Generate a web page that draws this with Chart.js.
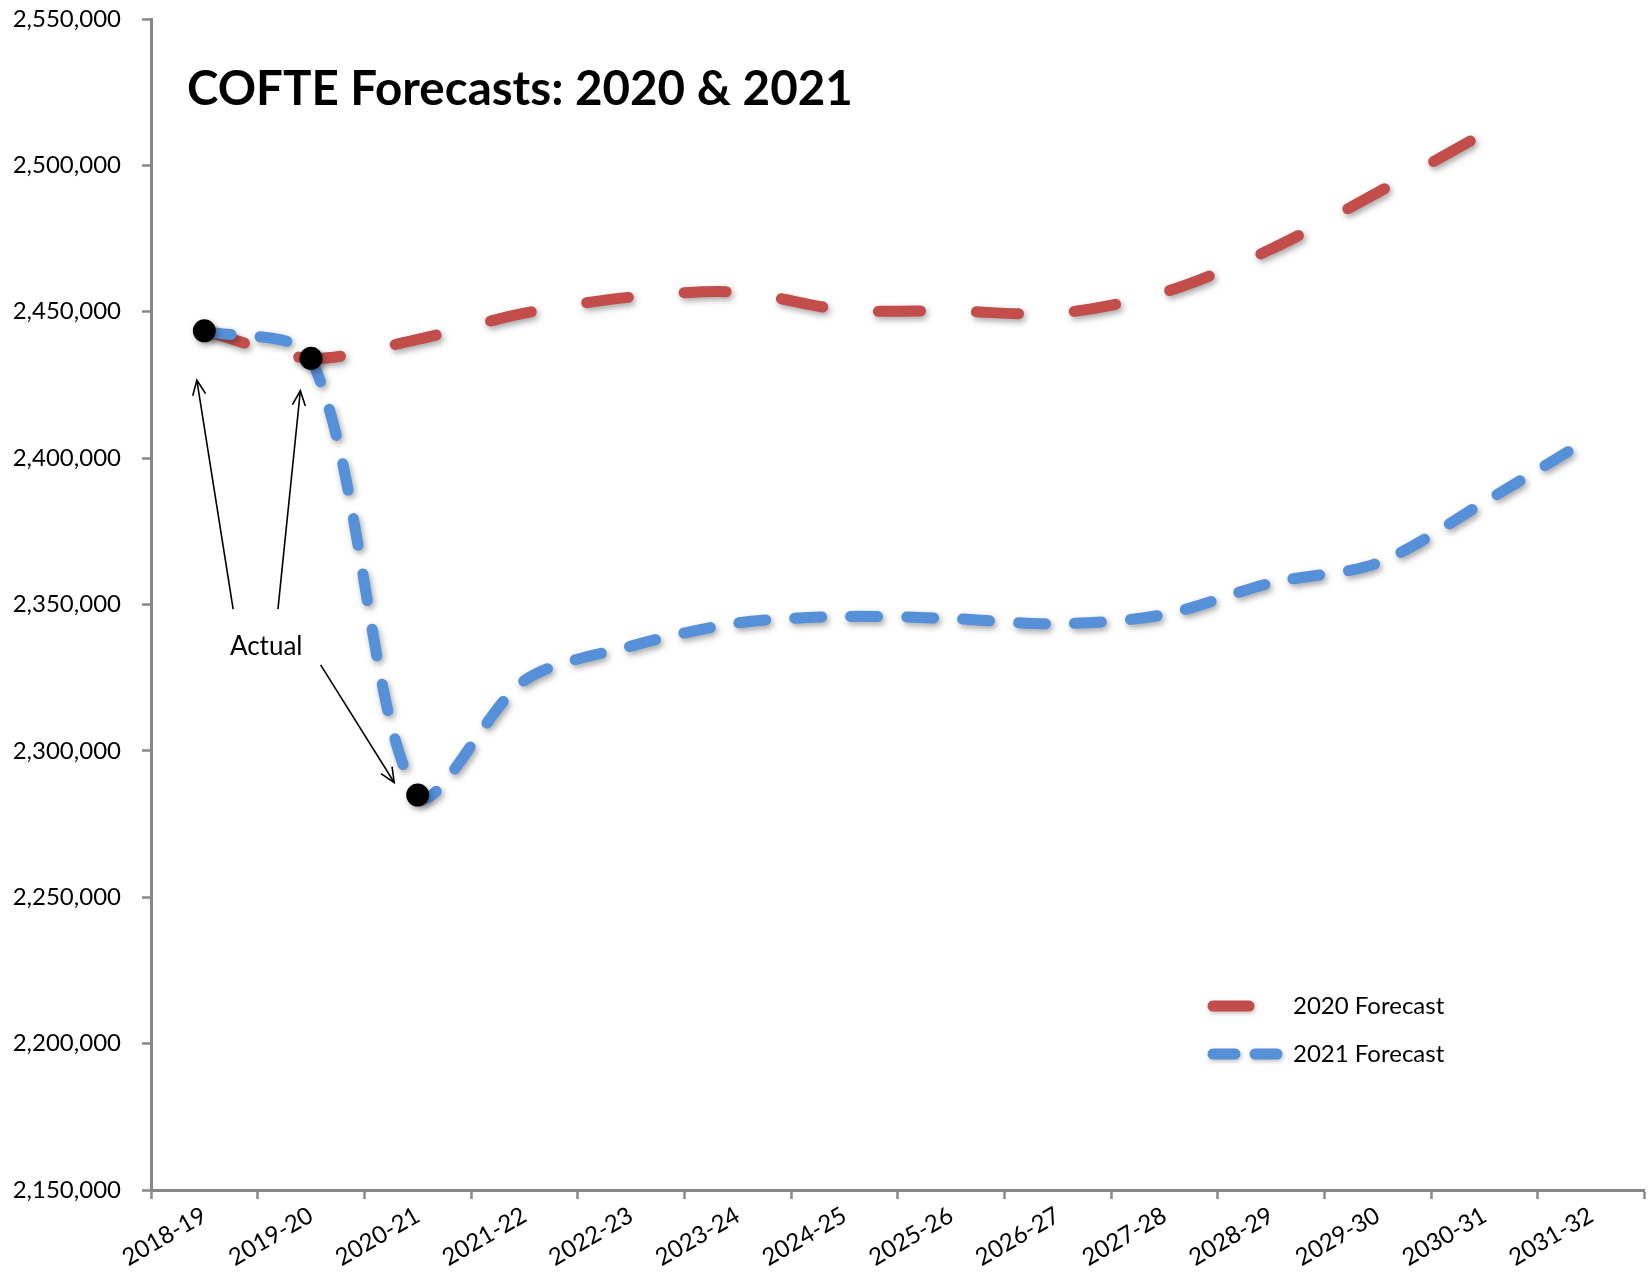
<!DOCTYPE html>
<html>
<head>
<meta charset="utf-8">
<script src="https://cdn.jsdelivr.net/npm/chart.js@4.4.1/dist/chart.umd.min.js"></script>
<style>
  html, body { margin: 0; padding: 0; background: #ffffff; overflow: hidden; }
  #wrap { width: 1648px; height: 1283px; overflow: hidden; }
</style>
</head>
<body>
<div id="wrap"><canvas id="c" width="1656" height="1283"></canvas></div>
<script>
const categories = ['2018-19','2019-20','2020-21','2021-22','2022-23','2023-24','2024-25','2025-26','2026-27','2027-28','2028-29','2029-30','2030-31','2031-32'];
const forecast2020 = [2443500, 2434100, 2440600, 2449500, 2455000, 2456700, 2450600, 2450300, 2449500, 2456700, 2471400, 2490800, 2511000, null];
const forecast2021 = [2443500, 2434100, 2284900, 2324000, 2335800, 2343700, 2345900, 2345200, 2343400, 2346600, 2357400, 2364200, 2385000, 2407000];
const actual = [2443500, 2434100, 2284900, null, null, null, null, null, null, null, null, null, null, null];
const yTicks = { min: 2150000, max: 2550000, step: 50000 };

const titleText = 'COFTE Forecasts: 2020 & 2021';
const noteText = 'Actual';
const noteLabelAt = [0.58, 2335500];
const noteArrows = [
  { from: [0.27, 2348400], to: [-0.07, 2426600] },
  { from: [0.69, 2348400], to: [0.90, 2423000] },
  { from: [1.09, 2329400], to: [1.78, 2289200] }
];

const FONT = 'Lato, "Open Sans", sans-serif';
const AXIS = '#878787';

const shadowPlugin = {
  id: 'shadow',
  beforeDatasetDraw(chart) {
    const ctx = chart.ctx;
    ctx.save();
    ctx.shadowColor = 'rgba(0,0,0,0.35)';
    ctx.shadowBlur = 6;
    ctx.shadowOffsetX = 2;
    ctx.shadowOffsetY = 3;
  },
  afterDatasetDraw(chart) { chart.ctx.restore(); }
};

function arrow(ctx, x1, y1, x2, y2) {
  ctx.beginPath();
  ctx.moveTo(x1, y1);
  ctx.lineTo(x2, y2);
  ctx.stroke();
  const a = Math.atan2(y2 - y1, x2 - x1);
  const L = 16, w = 0.42;
  ctx.beginPath();
  ctx.moveTo(x2 - L * Math.cos(a - w), y2 - L * Math.sin(a - w));
  ctx.lineTo(x2, y2);
  ctx.lineTo(x2 - L * Math.cos(a + w), y2 - L * Math.sin(a + w));
  ctx.stroke();
}

const decorPlugin = {
  id: 'decor',
  afterDraw(chart) {
    const ctx = chart.ctx;
    const xs = chart.scales.x, ys = chart.scales.y;
    const ca = chart.chartArea;
    ctx.save();
    // title
    ctx.fillStyle = '#000';
    ctx.font = 'bold 47.5px ' + FONT;
    ctx.textAlign = 'left';
    ctx.textBaseline = 'alphabetic';
    ctx.fillText(titleText, ca.left + 36, ca.top + 86);
    // note
    ctx.font = '26px ' + FONT;
    ctx.textAlign = 'center';
    ctx.textBaseline = 'middle';
    ctx.fillText(noteText, xs.getPixelForValue(noteLabelAt[0]), ys.getPixelForValue(noteLabelAt[1]));
    ctx.strokeStyle = '#000';
    ctx.lineWidth = 1.6;
    noteArrows.forEach(n => {
      arrow(ctx, xs.getPixelForValue(n.from[0]), ys.getPixelForValue(n.from[1]),
                 xs.getPixelForValue(n.to[0]), ys.getPixelForValue(n.to[1]));
    });
    // legend
    const items = [chart.data.datasets[2], chart.data.datasets[1]];
    const lx = ca.left + 1062, ly0 = ca.top + 987, gap = 48;
    items.forEach((ds, i) => {
      const y = ly0 + i * gap;
      ctx.save();
      ctx.shadowColor = 'rgba(0,0,0,0.25)';
      ctx.shadowBlur = 4; ctx.shadowOffsetX = 1; ctx.shadowOffsetY = 2;
      ctx.strokeStyle = ds.borderColor;
      ctx.lineWidth = ds.borderWidth;
      ctx.lineCap = 'round';
      ctx.setLineDash(ds.legendDash);
      ctx.beginPath();
      ctx.moveTo(lx, y);
      ctx.lineTo(lx + 66, y);
      ctx.stroke();
      ctx.restore();
      ctx.fillStyle = '#000';
      ctx.font = '24px ' + FONT;
      ctx.textAlign = 'left';
      ctx.textBaseline = 'middle';
      ctx.fillText(ds.label, lx + 80, y);
    });
    ctx.restore();
  }
};

new Chart(document.getElementById('c'), {
  type: 'line',
  data: {
    labels: categories,
    datasets: [
      {
        label: 'Actual',
        data: actual,
        showLine: false,
        pointRadius: 11.5,
        pointBackgroundColor: '#000',
        pointBorderColor: '#000',
        pointBorderWidth: 0,
        order: 0
      },
      {
        label: '2021 Forecast',
        data: forecast2021,
        borderColor: '#5590D8',
        borderWidth: 11,
        borderDash: [27, 29],
        legendDash: [22, 20],
        borderCapStyle: 'round',
        borderJoinStyle: 'round',
        pointRadius: 0,
        tension: 0.3,
        fill: false,
        order: 1
      },
      {
        label: '2020 Forecast',
        data: forecast2020,
        borderColor: '#C24D4A',
        borderWidth: 11,
        borderDash: [42, 56],
        legendDash: [36, 60],
        borderCapStyle: 'round',
        borderJoinStyle: 'round',
        pointRadius: 0,
        tension: 0.3,
        fill: false,
        order: 2
      }
    ]
  },
  options: {
    responsive: false,
    animation: false,
    devicePixelRatio: 1,
    layout: { padding: { top: 19, right: 0, left: 0, bottom: 0 } },
    plugins: { legend: { display: false }, tooltip: { enabled: false }, title: { display: false } },
    scales: {
      x: {
        type: 'category',
        offset: true,
        grid: { offset: true, drawOnChartArea: false, drawTicks: true, tickLength: 9, tickColor: AXIS, tickWidth: 2.5 },
        border: { color: AXIS, width: 3 },
        ticks: { color: '#000', font: { family: FONT, size: 24 }, minRotation: 30, maxRotation: 30, padding: 2, autoSkip: false },
        afterFit(s) { s.height = 93; }
      },
      y: {
        min: yTicks.min,
        max: yTicks.max,
        grid: { drawOnChartArea: false, drawTicks: true, tickLength: 9, tickColor: AXIS, tickWidth: 2.5 },
        border: { color: AXIS, width: 3 },
        ticks: {
          stepSize: yTicks.step,
          color: '#000',
          font: { family: FONT, size: 24 },
          padding: 21,
          callback: v => Number(v).toLocaleString('en-US')
        },
        afterFit(s) { s.width = 151; s.paddingTop = 12; s.paddingBottom = 12; }
      }
    }
  },
  plugins: [shadowPlugin, decorPlugin]
});
</script>
</body>
</html>
